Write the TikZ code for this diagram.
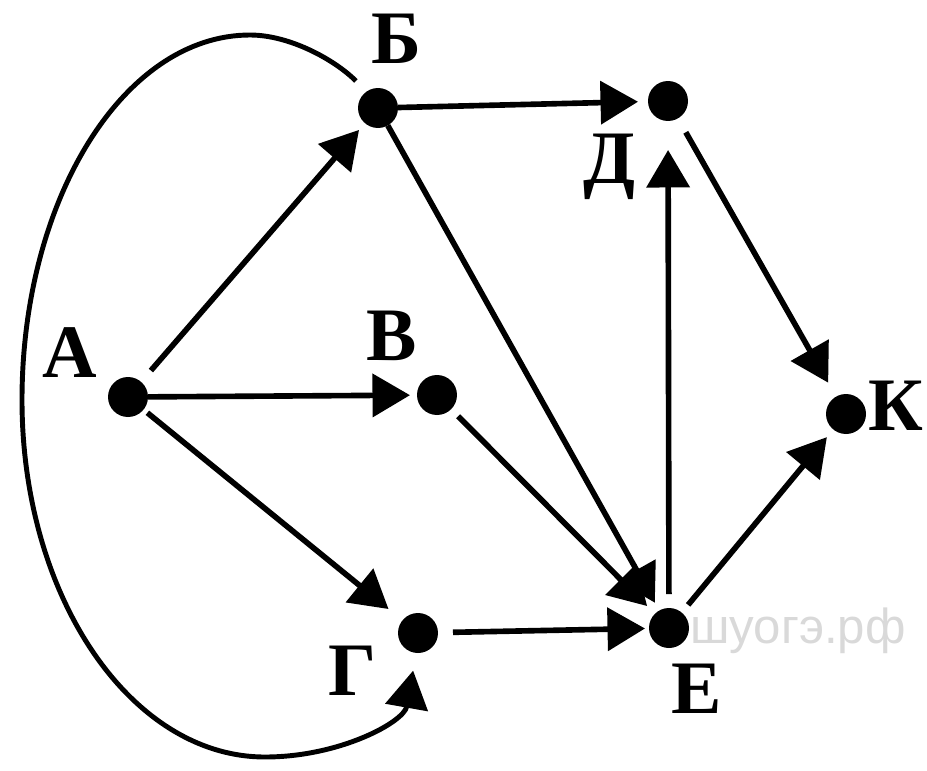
\documentclass[tikz,border=0pt]{standalone}
\usepackage{fontspec}
\setmainfont{Liberation Serif}
\newfontfamily\wmfont{Liberation Sans}
\usetikzlibrary{arrows.meta}

\begin{document}
\begin{tikzpicture}[x=0.02cm,y=-0.02cm]

% ---------- common style ----------
\tikzstyle{dot}=[circle,fill=black,inner sep=0pt,outer sep=0pt,minimum size=0.8cm]
\tikzstyle{lbl}=[anchor=base,inner sep=0pt,font=\fontsize{43}{43}\selectfont\bfseries]
\tikzstyle{arc}=[line width=3.2pt,-{Triangle[length=0.75cm,width=0.85cm]}]

\useasboundingbox (0,0) rectangle (927,771);

% watermark
\node[anchor=base west,inner sep=0pt,text=black!15,font=\wmfont\fontsize{28}{28}\selectfont]
      (wm) at (690,643) {шуогэ.рф};

% ================== vertices ==================
\node[dot] (a) at (128,397) {};
\node[dot] (b) at (378,108) {};
\node[dot] (v) at (437,395) {};
\node[dot] (g) at (418,633) {};
\node[dot] (d) at (668,101) {};
\node[dot] (e) at (669,628) {};
\node[dot] (k) at (846,414) {};

% labels
\node[lbl] (la) at (70,377) {А};
\node[lbl] (lb) at (396,63) {Б};
\node[lbl] (lv) at (392,360) {В};
\node[lbl] (lg) at (353,695) {Г};
\node[lbl] (ld) at (609,183) {Д};
\node[lbl] (le) at (697,713) {Е};
\node[lbl] (lk) at (896,430) {К};

% ================== edges ==================
\draw[arc,shorten <=0.3cm,shorten >=0.18cm] (a) -- (b);
\draw[arc,shorten >=0.14cm] (a) -- (v);
\draw[arc,shorten <=0.1cm,shorten >=0.36cm] (a) -- (g);
\draw[arc,shorten >=0.2cm] (b) -- (d);
\draw[arc,shorten >=0.18cm] (b) -- (e);
\draw[arc,shorten <=0.2cm,shorten >=0.22cm] (v) -- (e);
\draw[arc,shorten <=0.3cm,shorten >=0.08cm] (g) -- (e);
\draw[arc,shorten <=0.28cm,shorten >=0.58cm] (e) -- (d);
\draw[arc,shorten <=0.2cm,shorten >=0.2cm] (e) -- (k);
\draw[arc,shorten <=0.32cm,shorten >=0.32cm] (d) -- (k);

% long arc round the left side
\draw[arc,line width=2.8pt,shorten <=0.3cm,shorten >=0.36cm]
  (b.125) .. controls (335,60) and (290,35) .. (250,35)
          .. controls (124,35) and (22,199) .. (22,400)
          .. controls (22,597) and (131,757) .. (265,757)
          .. controls (340,757) and (404,722) .. (g.265);

\end{tikzpicture}
\end{document}
